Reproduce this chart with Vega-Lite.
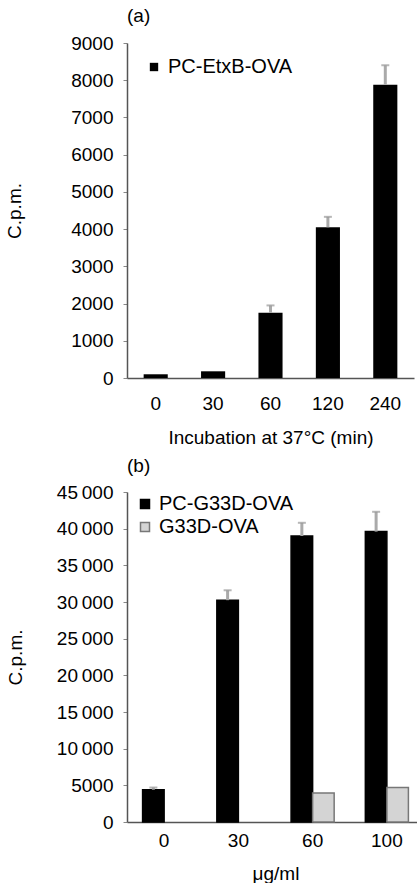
{
  "$schema": "https://vega.github.io/schema/vega-lite/v6.json",
  "background": "white",
  "padding": {"left": 5, "top": 7, "right": 0, "bottom": 0},
  "config": {
    "font": "Liberation Sans",
    "view": {"stroke": null},
    "axis": {"labelFont": "Liberation Sans", "titleFont": "Liberation Sans", "labelFontSize": 19, "titleFontSize": 19, "titleFontWeight": "normal", "labelColor": "black", "titleColor": "black", "domainColor": "#555", "domainWidth": 1.5, "tickColor": "#888", "grid": false, "labelOverlap": false},
    "title": {"font": "Liberation Sans", "fontSize": 19, "fontWeight": "normal", "anchor": "start", "color": "black", "frame": "group"},
    "legend": {"labelFont": "Liberation Sans", "labelFontSize": 20, "labelColor": "black"},
    "concat": {"spacing": 10}
  },
  "resolve": {"scale": {"color": "independent", "stroke": "independent"}, "legend": {"color": "independent", "stroke": "independent"}},
  "vconcat": [
    {
      "width": 287,
      "height": 335,
      "title": {"text": "(a)", "offset": 8},
      "data": {"values": [
        {"time": "0", "series": "PC-EtxB-OVA", "cpm": 100, "err": null},
        {"time": "30", "series": "PC-EtxB-OVA", "cpm": 180, "err": null},
        {"time": "60", "series": "PC-EtxB-OVA", "cpm": 1750, "err": 1950},
        {"time": "120", "series": "PC-EtxB-OVA", "cpm": 4050, "err": 4330},
        {"time": "240", "series": "PC-EtxB-OVA", "cpm": 7880, "err": 8400}
      ]},
      "layer": [
        {
          "mark": {"type": "bar"},
          "encoding": {
            "x": {"field": "time", "type": "ordinal", "sort": ["0", "30", "60", "120", "240"], "scale": {"paddingInner": 0.58, "paddingOuter": 0.29}, "axis": {"title": "Incubation at 37°C (min)", "labelAngle": 0, "ticks": false, "labelPadding": 16, "titlePadding": 15}},
            "y": {"field": "cpm", "type": "quantitative", "scale": {"domain": [0, 9000]}, "axis": {"title": "C.p.m.", "values": [0, 1000, 2000, 3000, 4000, 5000, 6000, 7000, 8000, 9000], "tickCount": 20, "format": "d", "labelOverlap": false, "tickSize": 4, "labelPadding": 10, "titlePadding": 46}},
            "color": {"field": "series", "type": "nominal", "scale": {"domain": ["PC-EtxB-OVA"], "range": ["black"]}, "legend": {"title": null, "orient": "none", "legendX": 17, "legendY": 14, "symbolType": "square", "symbolSize": 70, "labelOffset": 4, "padding": 0}}
          }
        },
        {
          "transform": [{"filter": "datum.err != null"}],
          "mark": {"type": "rule", "color": "#aaaaaa", "strokeWidth": 3},
          "encoding": {
            "x": {"field": "time", "type": "ordinal", "sort": ["0", "30", "60", "120", "240"]},
            "y": {"field": "cpm", "type": "quantitative"},
            "y2": {"field": "err"}
          }
        },
        {
          "transform": [{"filter": "datum.err != null"}],
          "mark": {"type": "tick", "color": "#999999", "size": 8, "thickness": 2},
          "encoding": {
            "x": {"field": "time", "type": "ordinal", "sort": ["0", "30", "60", "120", "240"]},
            "y": {"field": "err", "type": "quantitative"}
          }
        }
      ]
    },
    {
      "width": 297,
      "height": 330,
      "title": {"text": "(b)", "offset": 7},
      "data": {"values": [
        {"dose": "0", "series": "PC-G33D-OVA", "cpm": 4400, "err": 4700},
        {"dose": "30", "series": "PC-G33D-OVA", "cpm": 30250, "err": 31600},
        {"dose": "60", "series": "PC-G33D-OVA", "cpm": 39000, "err": 40800},
        {"dose": "100", "series": "PC-G33D-OVA", "cpm": 39600, "err": 42300},
        {"dose": "60", "series": "G33D-OVA", "cpm": 3950, "err": null},
        {"dose": "100", "series": "G33D-OVA", "cpm": 4700, "err": null}
      ]},
      "layer": [
        {
          "mark": {"type": "bar", "strokeWidth": 1.5},
          "encoding": {
            "x": {"field": "dose", "type": "ordinal", "sort": ["0", "30", "60", "100"], "scale": {"paddingInner": 0.42, "paddingOuter": 0.21}, "axis": {"title": "μg/ml", "labelAngle": 0, "ticks": false, "labelPadding": 9, "titlePadding": 14}},
            "xOffset": {"field": "series", "type": "nominal", "scale": {"domain": ["PC-G33D-OVA", "G33D-OVA"]}},
            "y": {"field": "cpm", "type": "quantitative", "scale": {"domain": [0, 45000]}, "axis": {"title": "C.p.m.", "values": [0, 5000, 10000, 15000, 20000, 25000, 30000, 35000, 40000, 45000], "tickCount": 20, "labelExpr": "datum.value >= 10000 ? replace(format(datum.value, ','), ',', '\u2009') : format(datum.value, 'd')", "labelOverlap": false, "tickSize": 4, "labelPadding": 10, "titlePadding": 31}},
            "color": {"field": "series", "type": "nominal", "scale": {"domain": ["PC-G33D-OVA", "G33D-OVA"], "range": ["black", "#d4d4d4"]}, "legend": {"title": null, "orient": "none", "legendX": 8, "legendY": 2, "symbolType": "square", "symbolSize": 81, "labelOffset": 4, "padding": 0, "rowPadding": 3}},
            "stroke": {"field": "series", "type": "nominal", "scale": {"domain": ["PC-G33D-OVA", "G33D-OVA"], "range": ["black", "#777777"]}, "legend": {"title": null, "orient": "none", "legendX": 8, "legendY": 2, "symbolType": "square", "symbolSize": 81, "labelOffset": 4, "padding": 0, "rowPadding": 3}}
          }
        },
        {
          "transform": [{"filter": "datum.err != null"}],
          "mark": {"type": "rule", "color": "#aaaaaa", "strokeWidth": 3},
          "encoding": {
            "x": {"field": "dose", "type": "ordinal", "sort": ["0", "30", "60", "100"]},
            "xOffset": {"field": "series", "type": "nominal"},
            "y": {"field": "cpm", "type": "quantitative"},
            "y2": {"field": "err"}
          }
        },
        {
          "transform": [{"filter": "datum.err != null"}],
          "mark": {"type": "tick", "color": "#999999", "size": 8, "thickness": 2},
          "encoding": {
            "x": {"field": "dose", "type": "ordinal", "sort": ["0", "30", "60", "100"]},
            "xOffset": {"field": "series", "type": "nominal"},
            "y": {"field": "err", "type": "quantitative"}
          }
        }
      ]
    }
  ]
}
